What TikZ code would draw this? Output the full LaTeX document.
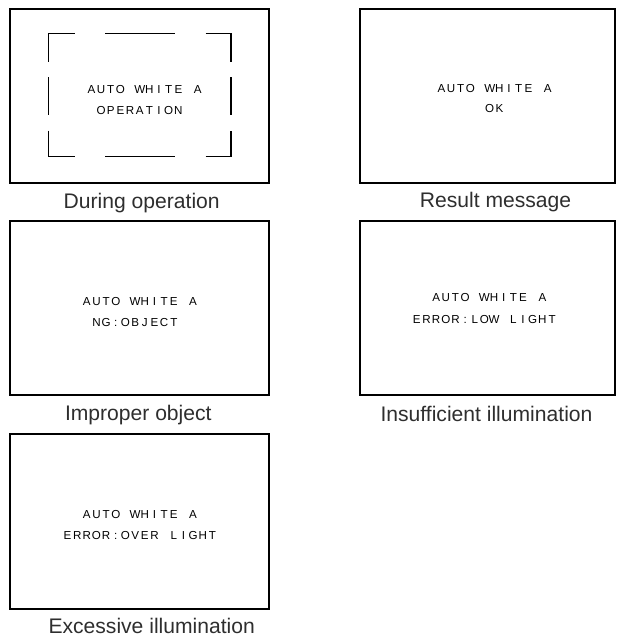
\documentclass[tikz,border=0pt]{standalone}
\usepackage{fontspec}
\setmainfont{Liberation Sans}
\usepackage{tikz}

% fixed pitch for the on-screen characters
\newlength{\osdpitch}
\setlength{\osdpitch}{9.66pt}
\ExplSyntaxOn
\NewDocumentCommand\osdtext{m}{\str_map_inline:nn{#1}{\makebox[\osdpitch]{##1}}}
\ExplSyntaxOff

\begin{document}
\begin{tikzpicture}[x=1pt,y=-1pt,
  screen/.style={line width=2pt},
  guide/.style={line width=1.2pt},
  osd/.style={anchor=base west,inner sep=0pt,font=\fontsize{11.6}{14}\selectfont},
  caption/.style={anchor=base,inner sep=0pt,font=\fontsize{21.1}{25}\selectfont,text=black!82}]
\useasboundingbox (0,0) rectangle (616,637);

% screens
\draw[screen] (10,8.5) rectangle (269,182.5);
\draw[screen] (359.5,8.5) rectangle (615,182.5);
\draw[screen] (10,221) rectangle (269,395);
\draw[screen] (359.5,221) rectangle (615,395);
\draw[screen] (10,433.5) rectangle (269,608.5);

% broken frame while measuring
\draw[guide] (48.3,61.7) -- (48.3,33.3) -- (75,33.3);
\draw[guide] (205.7,33.3) -- (231,33.3) -- (231,61.7);
\draw[guide] (48.3,130.7) -- (48.3,156.7) -- (75,156.7);
\draw[guide] (205.7,156.7) -- (231,156.7) -- (231,130.7);
\draw[guide] (105,33.3) -- (175,33.3);
\draw[guide] (105,156.7) -- (175,156.7);
\draw[guide] (48.3,77.3) -- (48.3,115);
\draw[guide] (231,77.3) -- (231,115);

% messages
\node[osd] (opTitle) at (86.4,93.3) {\osdtext{AUTO WHITE A}};
\node[osd] (opMsg) at (96.1,114) {\osdtext{OPERATION}};
\node[osd] (okTitle) at (436.4,92.3) {\osdtext{AUTO WHITE A}};
\node[osd] (okMsg) at (484.7,112.7) {\osdtext{OK}};
\node[osd] (ngTitle) at (81.8,305) {\osdtext{AUTO WHITE A}};
\node[osd] (ngMsg) at (91.5,326) {\osdtext{NG:OBJECT}};
\node[osd] (lowTitle) at (431.1,301.7) {\osdtext{AUTO WHITE A}};
\node[osd] (lowMsg) at (411.8,323.3) {\osdtext{ERROR:LOW LIGHT}};
\node[osd] (overTitle) at (81.8,518.3) {\osdtext{AUTO WHITE A}};
\node[osd] (overMsg) at (62.5,539.3) {\osdtext{ERROR:OVER LIGHT}};

% captions
\node[caption] (opCap) at (141.7,208) {During operation};
\node[caption] (okCap) at (495.5,207.5) {Result message};
\node[caption] (ngCap) at (138.3,420.5) {Improper object};
\node[caption] (lowCap) at (486.5,421) {Insufficient illumination};
\node[caption] (overCap) at (151.7,633) {Excessive illumination};
\end{tikzpicture}
\end{document}
